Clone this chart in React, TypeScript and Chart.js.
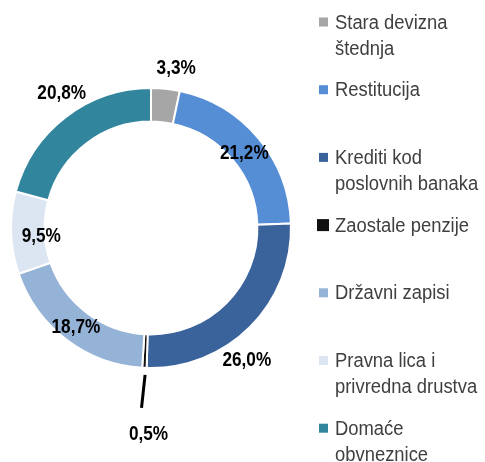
import React, { useEffect, useRef } from "react";
import { Chart, registerables } from "chart.js";

Chart.register(...registerables);

const categories: string[][] = [
  ["Stara devizna", "štednja"],
  ["Restitucija"],
  ["Krediti kod", "poslovnih banaka"],
  ["Zaostale penzije"],
  ["Državni zapisi"],
  ["Pravna lica i", "privredna drustva"],
  ["Domaće", "obvneznice"],
];
const values: number[] = [3.3, 21.2, 26.0, 0.5, 18.7, 9.5, 20.8];
const valueLabels: string[] = ["3,3%", "21,2%", "26,0%", "0,5%", "18,7%", "9,5%", "20,8%"];
const colors: string[] = ["#a6a6a6", "#558ed5", "#3a629b", "#111111", "#95b3d7", "#dce6f2", "#31859c"];
// label placement: radius (px from centre) and angular nudge (degrees)
const labelRadius: number[] = [162, 120, 163, 205, 124, 110, 162];
const labelNudge: number[] = [3, 1, 9, -2, 0, -2, 4];

const FONT = "'Liberation Sans', Arial, sans-serif";

const labelPlugin = {
  id: "sliceLabels",
  afterDatasetsDraw(chart: any) {
    const ctx = chart.ctx;
    const meta = chart.getDatasetMeta(0);
    ctx.save();
    ctx.font = `bold 20px ${FONT}`;
    ctx.fillStyle = "#000";
    ctx.textAlign = "center";
    ctx.textBaseline = "middle";
    const sx = 0.86;
    meta.data.forEach((arc: any, i: number) => {
      const { x, y, startAngle, endAngle, outerRadius } = arc.getProps(
        ["x", "y", "startAngle", "endAngle", "outerRadius"],
        true
      );
      const mid = (startAngle + endAngle) / 2 + (labelNudge[i] * Math.PI) / 180;
      const r = labelRadius[i];
      const lx = x + Math.cos(mid) * r;
      const ly = y + Math.sin(mid) * r;
      ctx.save();
      ctx.scale(sx, 1);
      ctx.fillText(valueLabels[i], lx / sx, ly + 1);
      ctx.restore();
      if (i === 3) {
        const a = (startAngle + endAngle) / 2;
        ctx.strokeStyle = "#000";
        ctx.lineWidth = 3;
        ctx.beginPath();
        ctx.moveTo(x + Math.cos(a) * (outerRadius + 7) + 1, y + Math.sin(a) * (outerRadius + 7));
        ctx.lineTo(x + Math.cos(a) * (outerRadius + 40) - 1, y + Math.sin(a) * (outerRadius + 40));
        ctx.stroke();
      }
    });
    ctx.restore();
  },
};

const legendPlugin = {
  id: "sideLegend",
  afterDraw(chart: any) {
    const ctx = chart.ctx;
    ctx.save();
    ctx.font = `20px ${FONT}`;
    ctx.textBaseline = "middle";
    ctx.textAlign = "left";
    const x0 = 319;
    const y0 = 22;
    const step = 67.7;
    const sx = 0.92;
    categories.forEach((lines, i) => {
      const y = y0 + i * step;
      ctx.fillStyle = colors[i];
      const s = i === 3 ? 12 : 9;
      ctx.fillRect(x0 + (i === 3 ? -2 : 0), y - s / 2, s, s);
      ctx.fillStyle = "#404040";
      lines.forEach((t, j) => {
        ctx.save();
        ctx.scale(sx, 1);
        ctx.fillText(t, (x0 + 16) / sx, y + 1 + j * 26);
        ctx.restore();
      });
    });
    ctx.restore();
  },
};

export default function App() {
  const ref = useRef<HTMLCanvasElement | null>(null);
  useEffect(() => {
    if (!ref.current) return;
    const chart = new Chart(ref.current, {
      type: "doughnut",
      data: {
        labels: categories.map((c) => c.join(" ")),
        datasets: [
          {
            data: values,
            backgroundColor: colors,
            borderColor: "#ffffff",
            borderWidth: 2,
            hoverOffset: 0,
          },
        ],
      },
      options: {
        animation: false,
        responsive: false,
        cutout: "76%",
        layout: { padding: { left: 10, right: 193, top: 87, bottom: 93 } },
        plugins: { legend: { display: false }, tooltip: { enabled: false } },
      },
      plugins: [labelPlugin, legendPlugin],
    });
    return () => chart.destroy();
  }, []);
  return (
    <div style={{ position: "absolute", left: 0, top: 0, width: 485, height: 462, background: "#fff" }}>
      <canvas ref={ref} width={485} height={462} style={{ width: 485, height: 462 }} />
    </div>
  );
}
